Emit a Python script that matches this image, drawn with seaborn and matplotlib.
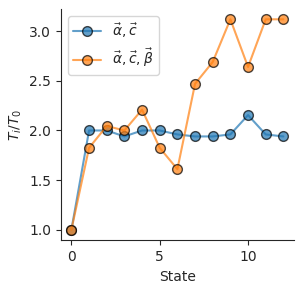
import pandas as pd
import seaborn as sns
import matplotlib.pyplot as plt

sns.set_style('ticks')

states = list(range(13))
ratio_ac = [1.0, 2.0, 2.0, 1.94, 2.0, 2.0, 1.96, 1.94, 1.94, 1.96, 2.155, 1.96, 1.94]
ratio_acb = [1.0, 1.825, 2.045, 2.0, 2.21, 1.825, 1.61, 2.47, 2.69, 3.12, 2.64, 3.12, 3.12]
labels = [r'$\vec{\alpha}, \vec{c}$', r'$\vec{\alpha}, \vec{c}, \vec{\beta}$']

df = pd.concat([
    pd.DataFrame({'State': states, 'ratio': ratio_ac, 'run': labels[0]}),
    pd.DataFrame({'State': states, 'ratio': ratio_acb, 'run': labels[1]}),
])

fig, ax = plt.subplots(figsize=(3.04, 2.93), dpi=100)
sns.lineplot(data=df, x='State', y='ratio', hue='run', palette=['tab:blue', 'tab:orange'],
             marker='o', markersize=7, markeredgecolor='black', markeredgewidth=1,
             alpha=0.7, linewidth=1.5, ax=ax)
ax.set_xlabel('State')
ax.set_ylabel(r'$T_i/T_0$')
ax.set_yticks([1.0, 1.5, 2.0, 2.5, 3.0])
ax.legend(title=None, loc='upper left', fontsize=10)
sns.despine()
fig.subplots_adjust(left=0.2, right=0.967, bottom=0.18, top=0.97)
plt.savefig('out.png')
